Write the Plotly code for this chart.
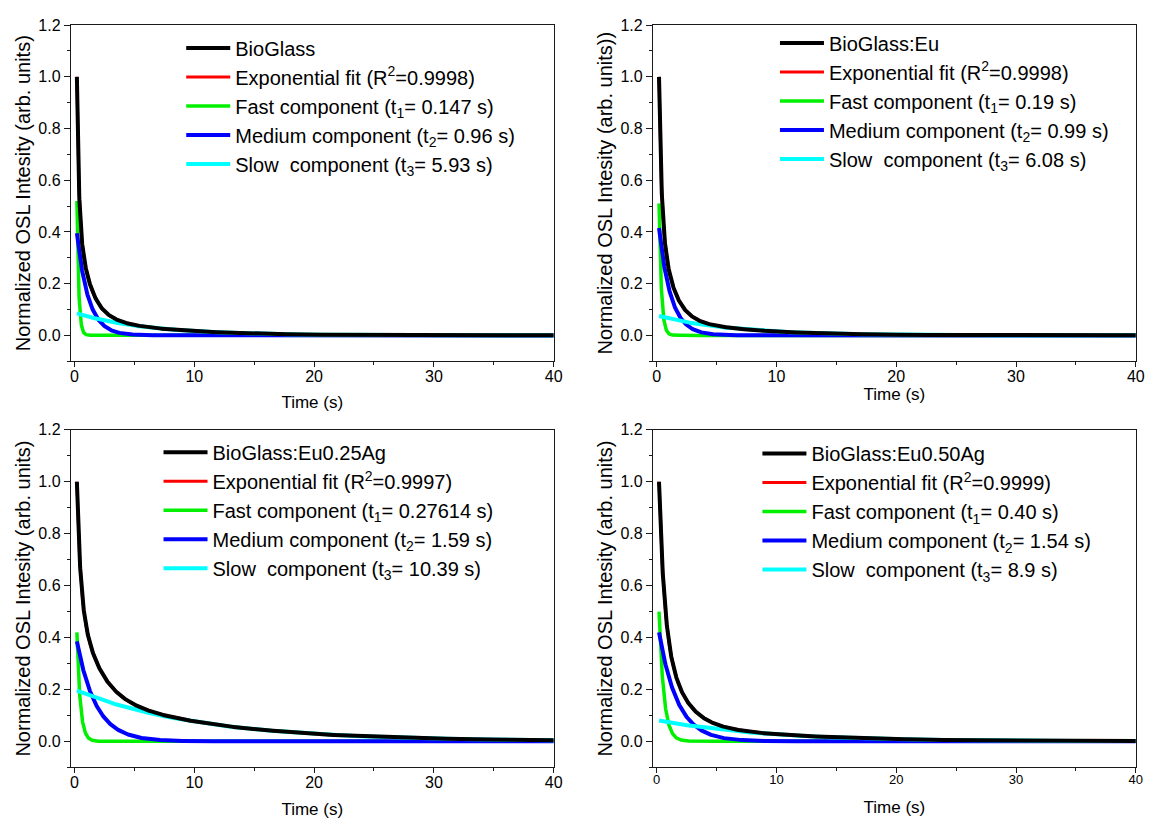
import numpy as np
import plotly.graph_objects as go

# Time window of the OSL decay curves (s)
t_start = 0.2
t_end = 40.0
t_step = 0.01

# One panel per sample
samples = ["BioGlass", "BioGlass:Eu", "BioGlass:Eu0.25Ag", "BioGlass:Eu0.50Ag"]
r_squared = ["0.9998", "0.9998", "0.9997", "0.9999"]

# Decay constants of the three exponential components (s)
tau_fast = [0.147, 0.19, 0.27614, 0.40]
tau_medium = [0.96, 0.99, 1.59, 1.54]
tau_slow = [5.93, 6.08, 10.39, 8.9]
tau_fast_text = ["0.147", "0.19", "0.27614", "0.40"]
tau_medium_text = ["0.96", "0.99", "1.59", "1.54"]
tau_slow_text = ["5.93", "6.08", "10.39", "8.9"]

# Normalized amplitudes of each component at the first channel
amp_fast = [0.52, 0.51, 0.42, 0.50]
amp_medium = [0.395, 0.415, 0.385, 0.42]
amp_slow = [0.085, 0.075, 0.195, 0.08]

y_titles = [
    "Normalized OSL Intesity (arb. units)",
    "Normalized OSL Intesity (arb. units))",
    "Normalized OSL Intesity (arb. units)",
    "Normalized OSL Intesity (arb. units)",
]

x_range = [-0.3, 40]
y_range = [-0.1, 1.2]

W, H = 1158, 826
FONT = "Liberation Sans, Arial, sans-serif"
AXIS_COLOR = "#1a1a1a"

# panel frames in pixels: (left, right, top, bottom)
frames = [
    (70.5, 557.5, 17.3, 356.7),
    (657.7, 1144.7, 17.3, 356.7),
    (70.5, 557.5, 426.0, 766.7),
    (657.7, 1144.7, 426.0, 766.7),
]
# legend placement in pixels: (left of sample line, centre of the legend rows)
legend_px = [(186.8, 107.2), (785.7, 102.3), (163.9, 515.5), (768.0, 516.8)]
x_tick_sizes = [16, 16, 16, 13]
x_title_standoff = [12, 3, 13, 15]
ROW_H = 29.0       # legend row pitch for a 20 px font
ROW0_OFFSET = 28.6  # legend top edge to first row centre

fig = go.Figure()

t = np.arange(t_start, t_end + t_step / 2, t_step)

for i in range(4):
    n = i + 1
    xa = "x" if n == 1 else f"x{n}"
    ya = "y" if n == 1 else f"y{n}"
    leg = "legend" if n == 1 else f"legend{n}"

    fast = amp_fast[i] * np.exp(-(t - t_start) / tau_fast[i])
    medium = amp_medium[i] * np.exp(-(t - t_start) / tau_medium[i])
    slow = amp_slow[i] * np.exp(-(t - t_start) / tau_slow[i])
    fit = fast + medium + slow

    common = dict(x=t, xaxis=xa, yaxis=ya, mode="lines", legend=leg,
                  hoverinfo="skip")
    fig.add_trace(go.Scatter(y=fit, line=dict(color="#ff0000", width=3),
                             name=f"Exponential fit (R<sup>2</sup>={r_squared[i]})",
                             legendrank=2, **common))
    fig.add_trace(go.Scatter(y=fast, line=dict(color="#00f000", width=3.5),
                             name=f"Fast component (t<sub>1</sub>= {tau_fast_text[i]} s)",
                             legendrank=3, **common))
    fig.add_trace(go.Scatter(y=medium, line=dict(color="#0000ff", width=4),
                             name=f"Medium component (t<sub>2</sub>= {tau_medium_text[i]} s)",
                             legendrank=4, **common))
    fig.add_trace(go.Scatter(y=slow, line=dict(color="#00ffff", width=4),
                             name=f"Slow\u00a0 component (t<sub>3</sub>= {tau_slow_text[i]} s)",
                             legendrank=5, **common))
    fig.add_trace(go.Scatter(y=fit, line=dict(color="#000000", width=4),
                             name=samples[i], legendrank=1, **common))

    left, right, top, bottom = frames[i]
    xdom = [left / W, right / W]
    ydom = [1 - bottom / H, 1 - top / H]

    xkey = "xaxis" if n == 1 else f"xaxis{n}"
    ykey = "yaxis" if n == 1 else f"yaxis{n}"
    fig.layout[xkey] = dict(
        domain=xdom, anchor=ya, range=x_range, showgrid=False, zeroline=False,
        showline=True, mirror=True, linecolor=AXIS_COLOR, linewidth=1.3,
        ticks="outside", ticklen=5, tickwidth=1.3, tickcolor=AXIS_COLOR,
        tick0=0, dtick=10, ticklabelstandoff=-5,
        minor=dict(ticks="outside", ticklen=3, tickwidth=1.2,
                   tickcolor=AXIS_COLOR, dtick=5, showgrid=False),
        tickfont=dict(size=x_tick_sizes[i], family=FONT, color="black"),
        title=dict(text="Time (s)", standoff=x_title_standoff[i],
                   font=dict(size=17, family=FONT, color="black")),
    )
    fig.layout[ykey] = dict(
        domain=ydom, anchor=xa, range=y_range, showgrid=False, zeroline=False,
        showline=True, mirror=True, linecolor=AXIS_COLOR, linewidth=1.3,
        ticks="outside", ticklen=6, tickwidth=1.3, tickcolor=AXIS_COLOR,
        tick0=0, dtick=0.2, tickformat=".1f",
        minor=dict(ticks="outside", ticklen=3, tickwidth=1.2,
                   tickcolor=AXIS_COLOR, dtick=0.1, showgrid=False),
        tickfont=dict(size=16, family=FONT, color="black"),
        title=dict(text=y_titles[i], standoff=2,
                   font=dict(size=20, family=FONT, color="black")),
    )

    # opposite frame edges carry ten equal divisions of the axis range
    top_ticks = list(np.linspace(x_range[0], x_range[1], 11)[1:-1])
    right_ticks = list(np.linspace(y_range[0], y_range[1], 11)[1:-1])
    fig.layout[f"xaxis{n + 4}"] = dict(
        overlaying=xa, anchor=ya, side="top", range=x_range, showgrid=False,
        zeroline=False, showline=False, ticks="inside", ticklen=4, tickwidth=1.2,
        tickcolor=AXIS_COLOR, tickmode="array", tickvals=top_ticks,
        showticklabels=False,
    )
    fig.layout[f"yaxis{n + 4}"] = dict(
        overlaying=ya, anchor=xa, side="right", range=y_range, showgrid=False,
        zeroline=False, showline=False, ticks="inside", ticklen=5, tickwidth=1.2,
        tickcolor=AXIS_COLOR, tickmode="array", tickvals=right_ticks,
        showticklabels=False,
    )

    lx, lc = legend_px[i]
    legend_top = lc - 2 * ROW_H - ROW0_OFFSET
    fig.layout[leg] = dict(
        x=(lx - 5) / W, y=1 - legend_top / H, xanchor="left", yanchor="top",
        bgcolor="rgba(0,0,0,0)", borderwidth=0, itemwidth=44,
        tracegroupgap=0, traceorder="normal",
        font=dict(size=20, family=FONT, color="black"),
    )

fig.update_layout(
    width=W, height=H, margin=dict(l=0, r=0, t=0, b=0),
    paper_bgcolor="white", plot_bgcolor="white",
    font=dict(family=FONT, color="black"),
)

fig.write_html("out.html")
